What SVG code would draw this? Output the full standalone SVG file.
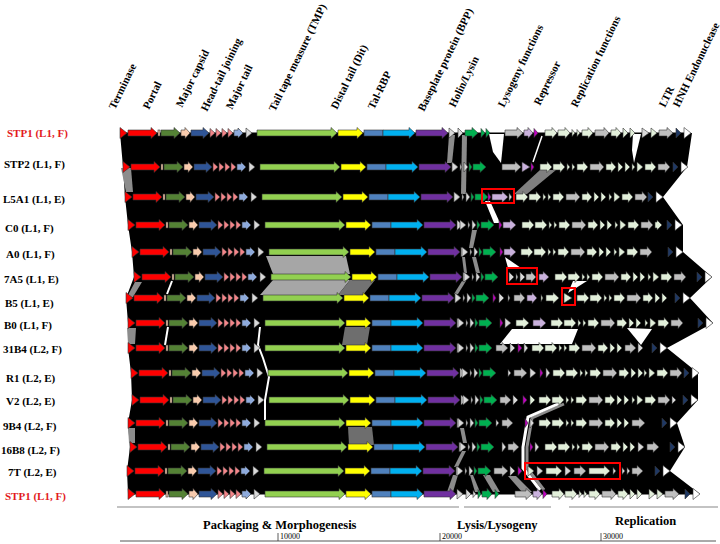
<svg xmlns="http://www.w3.org/2000/svg" xmlns:xlink="http://www.w3.org/1999/xlink" width="720" height="544" viewBox="0 0 720 544">
<style>
.g path,.g rect,defs path,defs rect{stroke:#333;stroke-width:.6}
.r{fill:#ff0000}.dg{fill:#548235}.pe{fill:#f8cbad}.db{fill:#2f5597}.pk{fill:#f4868a}.lb{fill:#8eaadb}.lg{fill:#d9d9d9}.tm{fill:#92d050}.ye{fill:#ffff00}.sb{fill:#4f81bd}.cy{fill:#00b0f0}.pu{fill:#7030a0}.gn{fill:#00b050}.gy{fill:#bfbfbf}.li{fill:#c9b1dc}.mg{fill:#c000c0}.pa{fill:#e2efda}.nv{fill:#1f3864}.wh{fill:#fff}
.lab{font-family:"Liberation Serif","Times New Roman",serif;font-weight:bold;font-size:11px;fill:#000}
.red{fill:#e31a1c}
.cat{font-family:"Liberation Serif","Times New Roman",serif;font-weight:bold;font-size:11px;fill:#000}
.sec{font-family:"Liberation Serif","Times New Roman",serif;font-weight:bold;font-size:12.5px;fill:#000}
.tick{font-family:"Liberation Serif","Times New Roman",serif;font-size:8px;fill:#000}
.box{fill:none;stroke:#ff0000;stroke-width:2}
.gb{fill:#8c8c8c}.ws{fill:none;stroke:#fff}
</style>
<defs>
<g id="sm">
<path class="r" d="M0,-5.5L7,0L0,5.5Z"/>
<path class="r" d="M8,-3H31V-5.5L37,0L31,5.5V3H8Z"/>
<rect class="pe" x="38" y="-3" width="2" height="6"/>
<path class="dg" d="M41,-3H54V-5.5L60,0L54,5.5V3H41Z"/>
<path class="pe" d="M61,-3H65V-5.5L70,0L65,5.5V3H61Z"/>
<path class="db" d="M71,-3H83V-5.5L89,0L83,5.5V3H71Z"/>
<path class="pk" d="M90,-4.5L95,0L90,4.5ZM96,-4.5L101,0L96,4.5ZM102,-4.5L107,0L102,4.5ZM108,-4.5L113,0L108,4.5Z"/>
<path class="lb" d="M114,-3H118V-5L123,0L118,5V3H114Z"/>
<path class="lg" d="M126,-5L132,0L126,5Z"/>
<path class="tm" d="M137,-3H211V-5.5L217,0L211,5.5V3H137Z"/>
<path class="ye" d="M218,-3H237V-5.5L243,0L237,5.5V3H218Z"/>
<rect class="sb" x="244" y="-3" width="19" height="6"/>
<path class="cy" d="M263,-3H289V-5.5L295,0L289,5.5V3H263Z"/>
<path class="pu" d="M296,-3H322V-5.5L328,0L322,5.5V3H296Z"/>
<path class="lg" d="M329,-5L335,0L329,5Z"/>
</g>
<g id="hl">
<path class="lg" d="M0,-5L6,0L0,5Z"/>
<path class="lg" d="M8,-3.5L10,0L8,3.5Z"/>
<path class="lg" d="M12,-5L16,0L12,5Z"/>
<path class="gn" d="M17,-4.5L20,0L17,4.5Z"/>
<path class="gn" d="M21,-3H28V-5.5L34,0L28,5.5V3H21Z"/>
</g>
<g id="rep">
<path class="pa" d="M0,-3H7V-5.5L12,0L7,5.5V3H0Z"/>
<path class="pa" d="M13,-3H20V-5.5L25,0L20,5.5V3H13Z"/>
<path class="pa" d="M27,-3.5L30,0L27,3.5ZM32,-3.5L35,0L32,3.5Z"/>
<path class="pa" d="M37,-3H43V-5.5L48,0L43,5.5V3H37Z"/>
<path class="gy" d="M50,-3H59V-5.5L64,0L59,5.5V3H50Z"/>
<path class="pa" d="M66,-3H71V-5.5L76,0L71,5.5V3H66Z"/>
<path class="pa" d="M78,-5L83,0L78,5ZM85,-5L90,0L85,5Z"/>
</g>
<g id="rep2">
<path class="pa" d="M0,-3.5L3,0L0,3.5Z"/>
<path class="pa" d="M5,-5L11,0L5,5Z"/>
<path class="pa" d="M13,-3H19V-5.5L24,0L19,5.5V3H13Z"/>
<path class="gy" d="M26,-3H33V-5.5L38,0L33,5.5V3H26Z"/>
</g>
<g id="en">
<path class="nv" d="M0,-5L5,0L0,5Z"/>
<path class="wh" d="M8,-5.5L15,0L8,5.5Z"/>
</g>
</defs>
<rect width="720" height="544" fill="#fff"/>

<g id="categories" class="cat">
<text transform="translate(115,110) rotate(-64)">Terminase</text>
<text transform="translate(149,110) rotate(-64)">Portal</text>
<text transform="translate(182,108) rotate(-64)">Major capsid</text>
<text transform="translate(207,112) rotate(-64)">Head-tail joining</text>
<text transform="translate(232,110) rotate(-64)">Major tail</text>
<text transform="translate(275,112) rotate(-64)">Tail tape measure (TMP)</text>
<text transform="translate(337,110) rotate(-64)">Distal tail (Dit)</text>
<text transform="translate(374,110) rotate(-64)">Tal-RBP</text>
<text transform="translate(424,112) rotate(-64)">Baseplate protein (BPP)</text>
<text transform="translate(455,108) rotate(-64)">Holin/Lysin</text>
<text transform="translate(504,108) rotate(-64)">Lysogeny functions</text>
<text transform="translate(540,106) rotate(-64)">Repressor</text>
<text transform="translate(577,108) rotate(-64)">Replication functions</text>
<text transform="translate(665,108) rotate(-64)">LTR</text>
<text transform="translate(679,108) rotate(-64)">HNH Endonuclease</text>
</g>

<g id="connectors">
<path fill="#000" d="M120,133L123,167L125,197L128,225L132,252L134,277L126,298L128,323L128,348L131,373L132,400L128,423L130,447L127,471L128,494L700,494L670,471L685,447L677,423L698,400L698,373L667,348L713,323L690,298L712,277L683,252L683,225L663,197L687,167L692,133Z"/>
<g class="gb">
<path d="M121,168L131,168L133,192L126,192Z"/>
<path d="M135,282L142,282L133,297L127,297Z"/>
<path d="M127,328L136,328L135,344L128,344Z"/>
<path d="M128,428L135,428L135,443L129,443Z"/>
<path fill="#a6a6a6" d="M266,256L346,256L350,274L273,274Z"/>
<path fill="#a6a6a6" d="M273,280L350,280L338,295L260,295Z"/>
<path fill="#737373" d="M350,280L375,280L363,295L338,295Z"/>
<path fill="#6e6e6e" d="M345,327L370,327L367,345L342,345Z"/>
<path fill="#6e6e6e" d="M348,427L372,427L374,445L349,445Z"/>
<path d="M449,135L455,135L452,163L447,163Z"/>
<path d="M462,135L467,135L466,194L461,194Z"/>
<path d="M472,230L477,230L473,248L469,248Z"/>
<path d="M462,257L465,257L467,273L464,273Z"/>
<path d="M472,257L476,257L480,273L476,273Z"/>
<path d="M462,281L466,281L458,294L454,294Z"/>
<path d="M460,428L464,428L467,443L463,443Z"/>
<path d="M462,451L466,451L458,467L454,467Z"/>
<path d="M453,475L458,475L453,492L447,492Z"/>
<path d="M470,475L473,475L480,492L475,492Z"/>
<path d="M483,475L490,475L500,492L493,492Z"/>
<path fill="#7f7f7f" d="M540,170L556,170L527,194L514,194Z"/>
<path d="M508,476L516,476L532,492L522,492Z"/>
</g>
<g fill="#fff">
<path d="M489,134L504,134L501,163L493,152Z"/>
<path d="M633,134L641,134L634,163L632,150Z"/>
<path d="M485,201L490,201L500,223L494,223Z"/>
<path d="M505,257L521,268L508,268Z"/>
<path d="M573,281L587,281L568,293Z"/>
<path d="M512,329L578,329L572,344L500,344Z"/>
<path d="M627,328L652,329L641,345Z"/>
</g>
<polyline class="ws" stroke-width="1.5" points="542,136 533,162"/>
<polyline class="ws" stroke-width="2" points="172,281 167,294"/>
<polyline class="ws" stroke-width="2" points="168,327 165,345"/>
<polyline class="ws" stroke-width="2" points="260,327 258,345 263,358 269,377 265,400 265,420"/>
<polyline fill="none" stroke="#8c8c8c" stroke-width="3" points="564,404 532,418 527,447 527,468 544,490"/>
<polyline class="ws" stroke-width="3" points="560,403 528,417 523,447 523,468 540,490"/>
</g>

<g id="row-STP1-top" class="g" transform="translate(0,133)">
<text class="lab red" x="7" y="4">STP1 (L1, F)</text>
<line x1="120" y1="0" x2="690" y2="0" stroke="#000" stroke-width="1.2"/>
<use href="#sm" x="120"/>
<path class="lg" d="M458,-5L463,0L458,5Z"/>
<path class="gn" d="M465,-3H472V-5.5L478,0L472,5.5V3H465Z"/>
<path class="gn" d="M481,-4.5L485,0L481,4.5ZM486,-4.5L490,0L486,4.5Z"/>
<path class="gy" d="M505,-3H517V-5.5L523,0L517,5.5V3H505Z"/>
<path class="li" d="M524,-3H528V-5.5L533,0L528,5.5V3H524Z"/>
<path class="mg" d="M534,-4.5L538,0L534,4.5Z"/>
<use href="#rep" x="545"/>
<path class="lg" d="M642,-5L649,0L642,5Z"/>
<path class="pa" d="M651,-5L657,0L651,5Z"/>
<path class="gy" d="M659,-3H667V-5.5L673,0L667,5.5V3H659Z"/>
<use href="#en" x="676"/>
</g>

<g id="row-STP2" class="g" transform="translate(0,167)">
<text class="lab" x="4" y="1">STP2 (L1, F)</text>
<use href="#sm" x="123"/>
<use href="#hl" x="452"/>
<path class="gy" d="M502,-3H515V-5.5L521,0L515,5.5V3H502Z"/>
<path class="li" d="M522,-5L530,0L522,5Z"/>
<path class="mg" d="M531,-4.5L534,0L531,4.5Z"/>
<use href="#rep" x="540"/>
<use href="#rep2" x="632"/>
<use href="#en" x="673"/>
</g>

<g id="row-L5A1" class="g" transform="translate(0,197)">
<text class="lab" x="3" y="6">L5A1 (L1, E)</text>
<use href="#sm" x="125"/>
<use href="#hl" x="454"/>
<path class="mg" d="M488,-4.5L491,0L488,4.5Z"/>
<path class="li" d="M492,-3H502V-5.5L508,0L502,5.5V3H492Z"/>
<path class="lg" d="M509,-4L512,0L509,4Z"/>
<use href="#rep" x="516"/>
<use href="#rep2" x="609"/>
<use href="#en" x="648"/>
</g>

<g id="row-C0" class="g" transform="translate(0,225)">
<text class="lab" x="5" y="7">C0 (L1, F)</text>
<use href="#sm" x="128"/>
<use href="#hl" x="460"/>
<path class="mg" d="M499,-4.5L502,0L499,4.5Z"/>
<path class="li" d="M503,-3H510V-5.5L516,0L510,5.5V3H503Z"/>
<use href="#rep" x="522"/>
<use href="#rep2" x="615"/>
<path class="pa" d="M655,-3H657V-5L662,0L657,5V3H655Z"/>
<use href="#en" x="667"/>
</g>

<g id="row-A0" class="g" transform="translate(0,252)">
<text class="lab" x="6" y="6">A0 (L1, F)</text>
<use href="#sm" x="132"/>
<use href="#hl" x="462"/>
<path class="mg" d="M500,-4.5L503,0L500,4.5Z"/>
<path class="li" d="M504,-3H510V-5.5L516,0L510,5.5V3H504Z"/>
<use href="#rep" x="521"/>
<use href="#rep2" x="614"/>
<use href="#en" x="668"/>
</g>

<g id="row-7A5" class="g" transform="translate(0,277)">
<text class="lab" x="4" y="6">7A5 (L1, E)</text>
<use href="#sm" x="134"/>
<use href="#hl" x="464"/>
<path class="lg" d="M509,-5L514,0L509,5Z"/>
<path class="lg" d="M516,-3.5L518,0L516,3.5Z"/>
<path class="lg" d="M520,-5L525,0L520,5Z"/>
<path class="gy" d="M526,-3H531V-5.5L536,0L531,5.5V3H526Z"/>
<path class="li" d="M539,-3H543V-5.5L549,0L543,5.5V3H539Z"/>
<use href="#rep" x="555"/>
<use href="#rep2" x="648"/>
<use href="#en" x="697"/>
</g>

<g id="row-B5" class="g" transform="translate(0,298)">
<text class="lab" x="5" y="9">B5 (L1, E)</text>
<use href="#sm" x="126"/>
<use href="#hl" x="455"/>
<path class="mg" d="M493,-4.5L496,0L493,4.5Z"/>
<path class="lg" d="M499,-5L504,0L499,5Z"/>
<path class="lg" d="M508,-3.5L510,0L508,3.5Z"/>
<path class="gy" d="M514,-3H520V-5.5L525,0L520,5.5V3H514Z"/>
<path class="li" d="M527,-3H532V-5.5L537,0L532,5.5V3H527Z"/>
<path class="pa" d="M541,-3.5L543,0L541,3.5Z"/>
<path class="pa" d="M546,-3H553V-5.5L559,0L553,5.5V3H546Z"/>
<path class="pa" d="M564,-5L572,0L564,5Z"/>
<use href="#rep" x="577"/>
<use href="#en" x="675"/>
</g>

<g id="row-B0" class="g" transform="translate(0,323)">
<text class="lab" x="4" y="6">B0 (L1, F)</text>
<use href="#sm" x="128"/>
<use href="#hl" x="458"/>
<path class="mg" d="M500,-4.5L503,0L500,4.5Z"/>
<path class="lg" d="M505,-5L511,0L505,5Z"/>
<path class="pa" d="M516,-3H523V-5.5L529,0L523,5.5V3H516Z"/>
<path class="li" d="M533,-3H540V-5.5L546,0L540,5.5V3H533Z"/>
<use href="#rep" x="551"/>
<use href="#rep2" x="645"/>
<use href="#en" x="698"/>
</g>

<g id="row-31B4" class="g" transform="translate(0,348)">
<text class="lab" x="3" y="5">31B4 (L2, F)</text>
<use href="#sm" x="128"/>
<use href="#hl" x="458"/>
<path class="gy" d="M496,-3H502V-5.5L508,0L502,5.5V3H496Z"/>
<path class="lg" d="M510,-5L515,0L510,5Z"/>
<path class="mg" d="M518,-4.5L522,0L518,4.5Z"/>
<path class="lg" d="M524,-5L528,0L524,5Z"/>
<use href="#rep" x="532"/>
<path class="gy" d="M625,-3H630V-5.5L636,0L630,5.5V3H625Z"/>
<path class="lg" d="M638,-5L643,0L638,5Z"/>
<use href="#en" x="652"/>
</g>

<g id="row-R1" class="g" transform="translate(0,373)">
<text class="lab" x="6" y="9">R1 (L2, E)</text>
<use href="#sm" x="131"/>
<use href="#hl" x="462"/>
<path class="lg" d="M508,-3.5L511,0L508,3.5Z"/>
<path class="gy" d="M514,-3H521V-5.5L527,0L521,5.5V3H514Z"/>
<path class="lg" d="M530,-5L536,0L530,5Z"/>
<path class="mg" d="M540,-4.5L543,0L540,4.5Z"/>
<path class="lg" d="M546,-5L550,0L546,5Z"/>
<use href="#rep" x="553"/>
<use href="#rep2" x="644"/>
<use href="#en" x="684"/>
</g>

<g id="row-V2" class="g" transform="translate(0,400)">
<text class="lab" x="6" y="5">V2 (L2, E)</text>
<use href="#sm" x="132"/>
<use href="#hl" x="463"/>
<path class="gy" d="M500,-3H505V-5.5L511,0L505,5.5V3H500Z"/>
<path class="lg" d="M513,-5L518,0L513,5Z"/>
<path class="mg" d="M523,-4.5L527,0L523,4.5Z"/>
<path class="pa" d="M530,-5L535,0L530,5Z"/>
<use href="#rep" x="539"/>
<use href="#rep2" x="632"/>
<path class="lg" d="M672,-4L676,0L672,4Z"/>
<use href="#en" x="683"/>
</g>

<g id="row-9B4" class="g" transform="translate(0,423)">
<text class="lab" x="3" y="7">9B4  (L2, F)</text>
<use href="#sm" x="128"/>
<use href="#hl" x="458"/>
<path class="lg" d="M496,-3.5L499,0L496,3.5Z"/>
<path class="gy" d="M502,-3H507V-5.5L513,0L507,5.5V3H502Z"/>
<path class="mg" d="M525,-4.5L528,0L525,4.5Z"/>
<path class="lg" d="M530,-5L534,0L530,5Z"/>
<use href="#rep" x="539"/>
<path class="gy" d="M632,-3H639V-5.5L645,0L639,5.5V3H632Z"/>
<use href="#en" x="662"/>
</g>

<g id="row-16B8" class="g" transform="translate(0,447)">
<text class="lab" x="1" y="7">16B8  (L2, F)</text>
<use href="#sm" x="130"/>
<use href="#hl" x="460"/>
<path class="lg" d="M502,-5L506,0L502,5Z"/>
<path class="gy" d="M508,-3H513V-5.5L519,0L513,5.5V3H508Z"/>
<path class="mg" d="M530,-4.5L533,0L530,4.5Z"/>
<path class="lg" d="M535,-5L539,0L535,5Z"/>
<use href="#rep" x="545"/>
<path class="lg" d="M638,-5L644,0L638,5Z"/>
<path class="gy" d="M647,-3H653V-5.5L659,0L653,5.5V3H647Z"/>
<use href="#en" x="670"/>
</g>

<g id="row-7T" class="g" transform="translate(0,471)">
<text class="lab" x="8" y="5">7T (L2, E)</text>
<use href="#sm" x="127"/>
<use href="#hl" x="457"/>
<path class="gy" d="M494,-3H502V-5.5L508,0L502,5.5V3H494Z"/>
<path class="lg" d="M510,-5L515,0L510,5Z"/>
<path class="mg" d="M518,-4.5L522,0L518,4.5Z"/>
<path class="pa" d="M528,-5L534,0L528,5Z"/>
<path class="lg" d="M537,-5L543,0L537,5Z"/>
<path class="pa" d="M546,-3H556V-5.5L562,0L556,5.5V3H546Z"/>
<path class="lg" d="M565,-5L571,0L565,5Z"/>
<path class="gy" d="M574,-3H580V-5.5L586,0L580,5.5V3H574Z"/>
<path class="pa" d="M589,-3H604V-5.5L610,0L604,5.5V3H589Z"/>
<path class="lg" d="M613,-3.5L616,0L613,3.5Z"/>
<path class="lg" d="M622,-3.5L625,0L622,3.5ZM627,-3.5L630,0L627,3.5Z"/>
<path class="gy" d="M632,-3H637V-5.5L643,0L637,5.5V3H632Z"/>
<use href="#en" x="655"/>
</g>

<g id="row-STP1-bottom" class="g" transform="translate(0,494)">
<text class="lab red" x="5" y="6">STP1 (L1, F)</text>
<line x1="128" y1="0" x2="698" y2="0" stroke="#000" stroke-width="1.2"/>
<use href="#sm" x="128"/>
<path class="lg" d="M466,-5L471,0L466,5Z"/>
<path class="lg" d="M473,-3.5L476,0L473,3.5Z"/>
<path class="gn" d="M478,-4.5L481,0L478,4.5Z"/>
<path class="gn" d="M482,-3H487V-5.5L492,0L487,5.5V3H482Z"/>
<path class="gn" d="M495,-4.5L499,0L495,4.5Z"/>
<path class="gy" d="M515,-3H526V-5.5L532,0L526,5.5V3H515Z"/>
<path class="li" d="M533,-3H537V-5.5L542,0L537,5.5V3H533Z"/>
<path class="mg" d="M543,-4.5L547,0L543,4.5Z"/>
<use href="#rep" x="552"/>
<path class="pa" d="M649,-5L655,0L649,5Z"/>
<path class="pa" d="M657,-5L663,0L657,5Z"/>
<path class="gy" d="M665,-3H673V-5.5L679,0L673,5.5V3H665Z"/>
<use href="#en" x="685"/>
</g>

<g id="highlights">
<rect class="box" x="482" y="189" width="32" height="14"/>
<rect class="box" x="507" y="268" width="30" height="16"/>
<rect class="box" x="562" y="288" width="13" height="17"/>
<rect class="box" x="525" y="463" width="95" height="16"/>
</g>

<g id="modules">
<g stroke="#888" stroke-width="1.2">
<line x1="117" y1="507" x2="459" y2="507"/>
<line x1="464" y1="507" x2="551" y2="507"/>
<line x1="569" y1="507" x2="718" y2="507"/>
</g>
<text class="sec" x="203" y="529">Packaging &amp; Morphogenesis</text>
<text class="sec" x="457" y="529">Lysis/Lysogeny</text>
<text class="sec" x="615" y="525">Replication</text>
</g>

<g id="axis">
<line x1="120" y1="541" x2="716" y2="541" stroke="#555" stroke-width="1"/>
<g stroke="#333" stroke-width="0.8">
<line x1="278" y1="533" x2="278" y2="541"/>
<line x1="440" y1="533" x2="440" y2="541"/>
<line x1="601" y1="533" x2="601" y2="541"/>
</g>
<text class="tick" x="280" y="539">10000</text>
<text class="tick" x="442" y="539">20000</text>
<text class="tick" x="603" y="539">30000</text>
</g>
</svg>
